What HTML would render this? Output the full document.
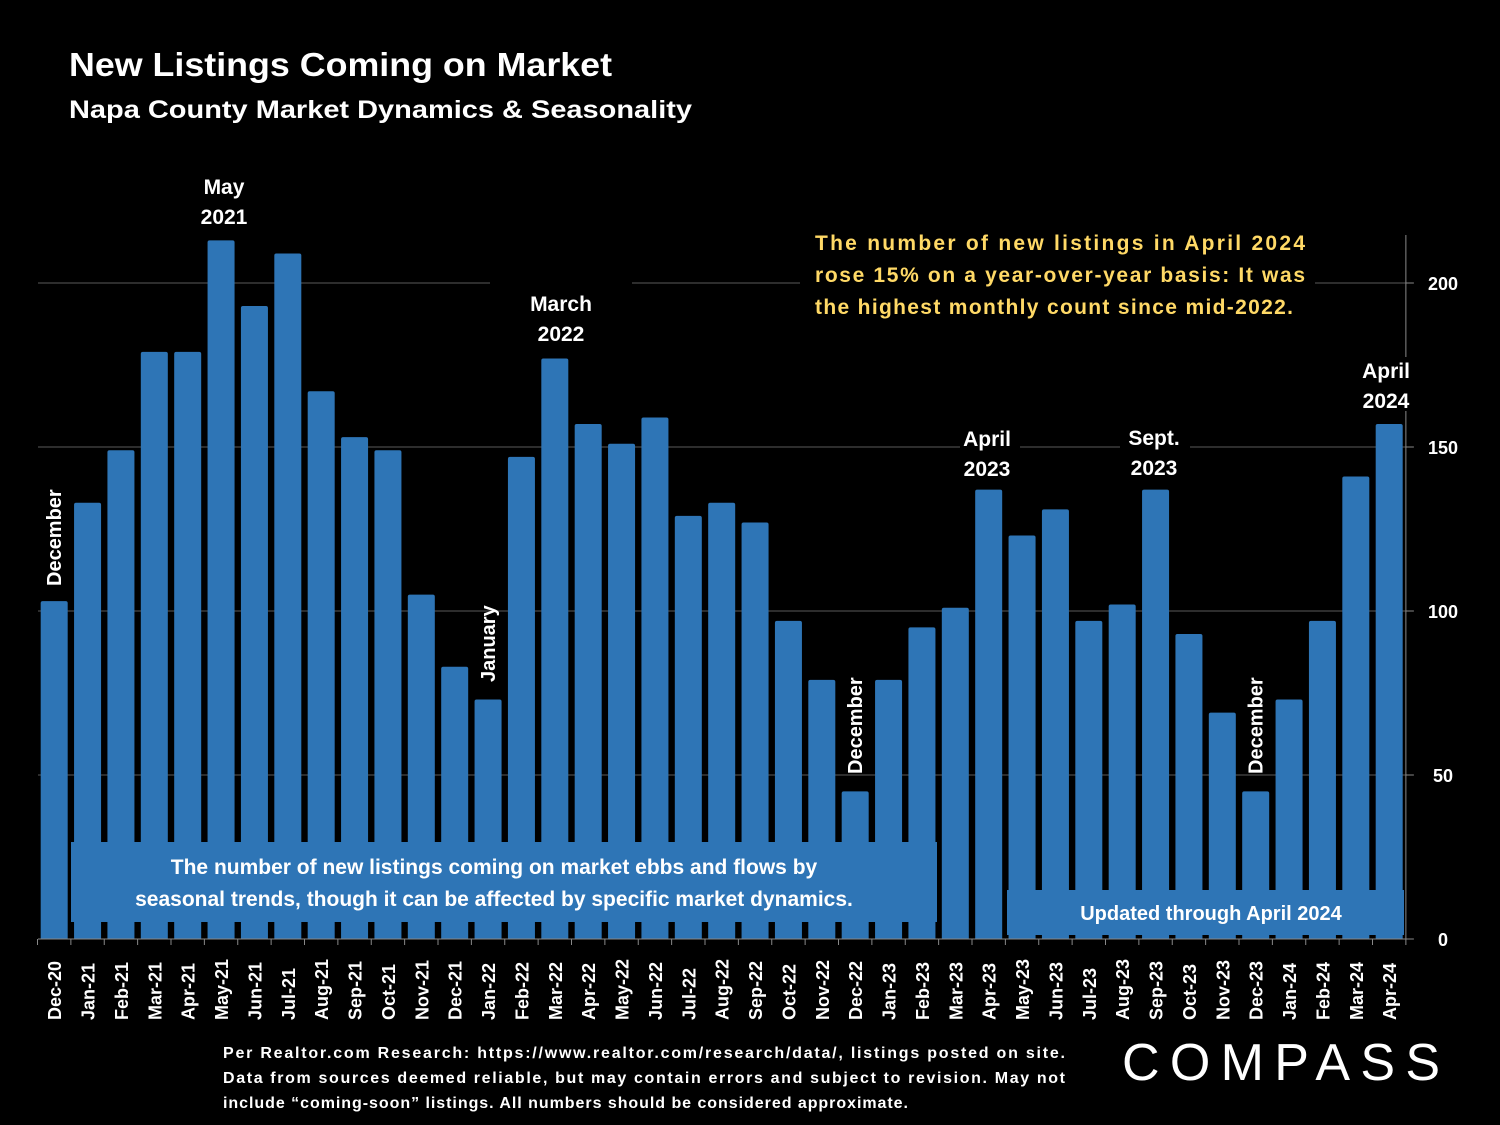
<!DOCTYPE html>
<html><head><meta charset="utf-8">
<style>
html,body{margin:0;padding:0;background:#000;}
body{width:1500px;height:1125px;overflow:hidden;position:relative;font-family:"Liberation Sans",Arial,sans-serif;}
svg{position:absolute;left:0;top:0;}
.t{font-weight:bold;fill:#fff;}
</style></head>
<body>
<svg id="chart" width="1500" height="1125">
<text x="69" y="76" class="t" font-size="33" textLength="543" lengthAdjust="spacingAndGlyphs">New Listings Coming on Market</text>
<text x="69" y="118" class="t" font-size="25" textLength="623" lengthAdjust="spacingAndGlyphs">Napa County Market Dynamics &amp; Seasonality</text>
<g id="grid"></g>
<g id="bars"></g>
<g id="overlay"></g>
</svg>
<script>
const categories=["Dec-20","Jan-21","Feb-21","Mar-21","Apr-21","May-21","Jun-21","Jul-21","Aug-21","Sep-21","Oct-21","Nov-21","Dec-21","Jan-22","Feb-22","Mar-22","Apr-22","May-22","Jun-22","Jul-22","Aug-22","Sep-22","Oct-22","Nov-22","Dec-22","Jan-23","Feb-23","Mar-23","Apr-23","May-23","Jun-23","Jul-23","Aug-23","Sep-23","Oct-23","Nov-23","Dec-23","Jan-24","Feb-24","Mar-24","Apr-24"];
const values=[103,133,149,179,179,213,193,209,167,153,149,105,83,73,147,177,157,151,159,129,133,127,97,79,45,79,95,101,137,123,131,97,102,137,93,69,45,73,97,141,157];
const yTicks=[0,50,100,150,200];

const NS="http://www.w3.org/2000/svg";
const X0=37.5, STEP=33.375, BW=27, Y0=939, K=3.28;
const xC=i=>X0+STEP*(i+0.5);
const yS=v=>Y0-v*K;
function mk(tag,attrs,parent,txt){const e=document.createElementNS(NS,tag);for(const a in attrs)e.setAttribute(a,attrs[a]);if(txt!==undefined)e.textContent=txt;parent.appendChild(e);return e;}
const grid=document.getElementById('grid'),bars=document.getElementById('bars'),ov=document.getElementById('overlay');
const xEnd=X0+STEP*categories.length;

yTicks.forEach(t=>{
  if(t>0){const l=mk('line',{x1:38,x2:xEnd,y1:yS(t),y2:yS(t),stroke:'#5a5a5a','stroke-width':1},grid);
  
  }
  const tk=mk('line',{x1:xEnd,x2:xEnd+8,y1:yS(t),y2:yS(t),stroke:'#888','stroke-width':1},grid);
  
  
  const tx=mk('text',{x:1443,y:yS(t)+7,'text-anchor':'middle','font-size':18,class:'t'},grid,String(t));
  
  
});
const ax=mk('line',{x1:xEnd,x2:xEnd,y1:235,y2:Y0,stroke:'#888','stroke-width':1},grid);



values.forEach((v,i)=>{
  const x=xC(i)-BW/2,y=yS(v);
  const p=mk('path',{d:`M${x},${Y0}V${y+2}Q${x},${y} ${x+2},${y}H${x+BW-2}Q${x+BW},${y} ${x+BW},${y+2}V${Y0}Z`,fill:'#2e75b6'},bars);
  
  
  const lb=mk('text',{transform:`translate(${xC(i)+7},1020) rotate(-90)`,'font-size':18,class:'t'},bars,categories[i]);
  
  
});
for(let i=0;i<=categories.length;i++){
  const t=mk('line',{x1:X0+STEP*i,x2:X0+STEP*i,y1:Y0,y2:Y0+6,stroke:'#888','stroke-width':1},bars);
  
  
}
const al=mk('line',{x1:38,x2:xEnd,y1:Y0,y2:Y0,stroke:'#888','stroke-width':1},bars);



[[490,275,142,70],[800,225,515,100],[960,425,60,54],[1120,425,70,54],[1355,357,65,54],[190,172,70,54]].forEach(r=>{
  const b=mk('rect',{x:r[0],y:r[1],width:r[2],height:r[3],fill:'#000'},ov);
  
  
});
function label(x,lines,y0,name){
  lines.forEach((s,j)=>{const t=mk('text',{x:x,y:y0+30*j,'text-anchor':'middle','font-size':21,class:'t'},ov,s);
  
  });
}
label(224,['May','2021'],194,'annotation-may-2021');
label(561,['March','2022'],311,'annotation-march-2022');
label(987,['April','2023'],446,'annotation-april-2023');
label(1154,['Sept.','2023'],445,'annotation-sept-2023');
label(1386,['April','2024'],378,'annotation-april-2024');
function vlabel(x,yBottom,s,name){const t=mk('text',{transform:`translate(${x},${yBottom}) rotate(-90)`,'font-size':20,class:'t'},ov,s);
  
  }
vlabel(xC(0)+7,586,'December','annotation-december-2020');
vlabel(xC(13)+7,682,'January','annotation-january-2022');
vlabel(xC(24)+7,774,'December','annotation-december-2022');
vlabel(xC(36)+7,774,'December','annotation-december-2023');

const oc=[['The  number  of  new  listings  in  April  2024',250],['rose 15% on a year-over-year basis:  It was',282],['the highest monthly count since mid-2022.',314]];
oc.forEach((l,j)=>{const t=mk('text',{x:815,y:l[1],'font-size':21,'font-weight':'bold',fill:'#ffd966',textLength:j<2?490:478,lengthAdjust:'spacing'},ov,l[0]);
  
  });

const b1=mk('rect',{x:71,y:842,width:866,height:80,fill:'#2e75b6'},ov);


[['The number of new listings coming on market ebbs and flows by',874],['seasonal trends, though it can be affected by specific market dynamics.',906]].forEach(l=>{
  const t=mk('text',{x:494,y:l[1],'text-anchor':'middle','font-size':21,class:'t'},ov,l[0]);
  
  });
const b2=mk('rect',{x:1007,y:890,width:397,height:45,fill:'#2e75b6'},ov);


const ut=mk('text',{x:1211,y:920,'text-anchor':'middle','font-size':20,class:'t'},ov,'Updated through April 2024');



[['Per  Realtor.com  Research:   https://www.realtor.com/research/data/,  listings  posted  on  site.',1058,842],['Data  from  sources  deemed  reliable,  but  may  contain  errors  and  subject  to  revision.  May  not',1083,842],['include \u201ccoming-soon\u201d listings. All numbers should be considered approximate.',1108,685]].forEach(l=>{
  const t=mk('text',{x:223,y:l[1],'font-size':16,class:'t',textLength:l[2],lengthAdjust:'spacing'},ov,l[0]);
  
  });
const lg=mk('text',{x:1122,y:1080,'font-size':52,fill:'#fff',textLength:318,lengthAdjust:'spacing'},ov,'COMPASS');


</script>
</body></html>
